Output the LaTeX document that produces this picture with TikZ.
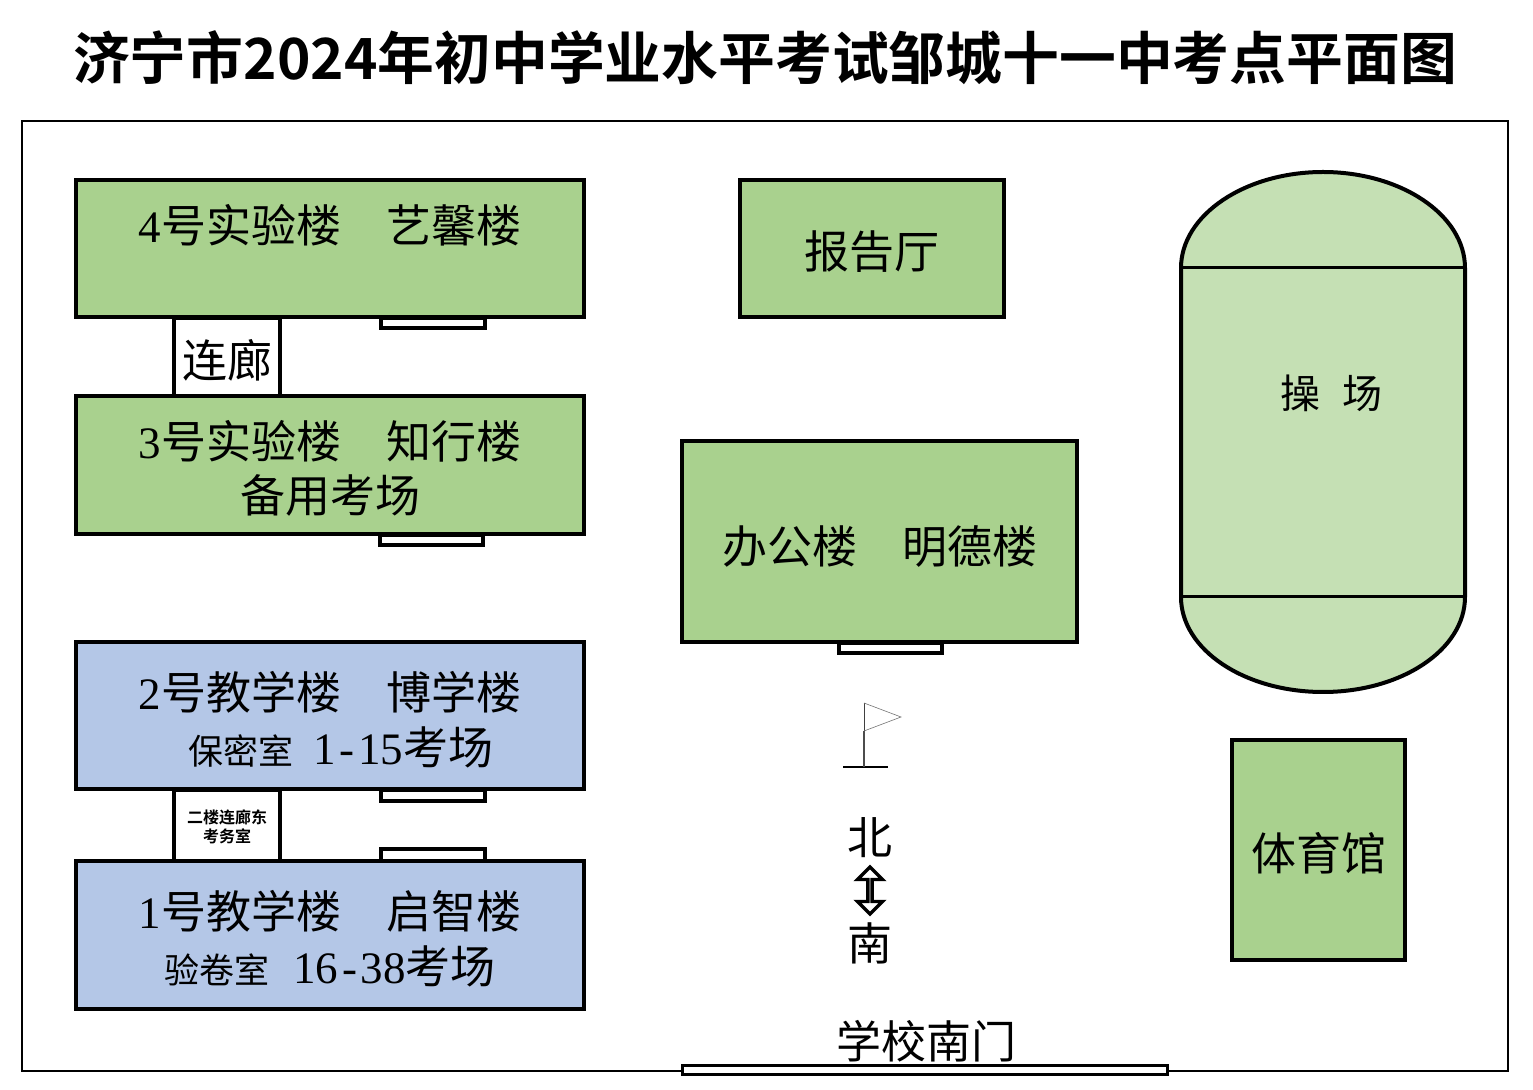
\documentclass[tikz,border=0pt]{standalone}
\usepackage{fontspec}
\setmainfont{Liberation Serif}
\newfontfamily\cjk{Noto Sans CJK SC}[BoldFont={Noto Sans CJK SC Bold}]
\usetikzlibrary{shapes.arrows}
\definecolor{bldgreen}{HTML}{A9D18E}
\definecolor{bldblue}{HTML}{B4C7E7}
\definecolor{fieldgreen}{HTML}{C5E0B4}
\newcommand{\dg}[1]{{\rmfamily #1}}
\newcommand{\hy}{\hspace{1.8pt}-\hspace{1.8pt}}
\tikzset{
  room/.style 2 args={draw, line width=2pt, inner sep=0pt, minimum width=#1*0.5pt, minimum height=#2*0.5pt},
  door/.style 2 args={draw, fill=white, line width=1.8pt, inner sep=0pt, minimum width=#1*0.5pt, minimum height=#2*0.5pt},
  big/.style={font=\cjk\fontsize{22.5}{27}\selectfont, inner sep=0pt},
  mid/.style={font=\cjk\fontsize{17.5}{21}\selectfont, inner sep=0pt}
}
\begin{document}
\begin{tikzpicture}[x=0.5pt, y=-0.5pt]
        \useasboundingbox (0,0) rectangle (1533,1090);

        \node[font=\cjk\bfseries\fontsize{28.4}{34}\selectfont, inner sep=0pt] (title) at (765,58) {济宁市2024年初中学业水平考试邹城十一中考点平面图};
        \node[draw, line width=1.2pt, inner sep=0pt, minimum width=743pt, minimum height=475pt] (frame) at (765,596) {};

        % corridors and doors first, the buildings lie over their ends
        \node[room={106}{78}, fill=white] (linkA) at (227,357) {};
        \node[room={106}{71}, fill=white] (linkB) at (227,825.5) {};
        \node[door={104}{10}] (doorD) at (433,323) {};
        \node[door={103}{10}] (doorC) at (431.5,540) {};
        \node[door={104}{11}] (doorB) at (433,795.5) {};
        \node[door={104}{12}] (doorA) at (433,855) {};
        \node[door={103}{10}] (doorO) at (890.5,648) {};
        \node[door={485}{9}] (gate) at (925,1070) {};

        \node[room={508}{137}, fill=bldgreen] (labD) at (330,249) {};
        \node[room={508}{138}, fill=bldgreen] (labC) at (330,465.5) {};
        \node[room={508}{147}, fill=bldblue] (teachB) at (330,716) {};
        \node[room={508}{147}, fill=bldblue] (teachA) at (330,935) {};
        \node[room={264}{137}, fill=bldgreen] (hall) at (872,249) {};
        \node[room={395}{201}, fill=bldgreen] (office) at (879.5,542) {};
        \node[room={173}{220}, fill=bldgreen] (gym) at (1318.5,850.5) {};

        % playground
        \draw[line width=2pt, fill=fieldgreen] (1181,268) .. controls (1181,215) and (1245,172) .. (1323,172)
          .. controls (1401,172) and (1465,215) .. (1465,268) -- (1465,597)
          .. controls (1465,650) and (1401,692) .. (1323,692)
          .. controls (1245,692) and (1181,650) .. (1181,597) -- cycle;
        \node[draw, line width=1.5pt, inner sep=0pt, minimum width=142pt, minimum height=164.5pt] (field) at (1323,432.5) {};

        \node[big] (labDtext) at (330,225) {\dg{4}号实验楼　艺馨楼};
        \node[big] (linkAtext) at (227,360) {连廊};
        \node[big] (labCtext) at (330,441) {\dg{3}号实验楼　知行楼};
        \node[big] (labCnote) at (330,495) {备用考场};
        \node[big] (hallText) at (872,252) {报告厅};
        \node[big] (officeText) at (880,546) {办公楼　明德楼};
        \node[font=\cjk\fontsize{20}{24}\selectfont, inner sep=0pt] (fieldText) at (1331,393) {操\hspace{11pt}场};
        \node[big] (teachBtext) at (330,692) {\dg{2}号教学楼　博学楼};
        \node[inner sep=0pt] (teachBnote) at (341,747) {\cjk\fontsize{17.5}{21}\selectfont 保密室\hspace{10pt}\fontsize{22.5}{27}\selectfont\dg{1\hy 15}考场};
        \node[big] (teachAtext) at (330,911) {\dg{1}号教学楼　启智楼};
        \node[inner sep=0pt] (teachAnote) at (330,966) {\cjk\fontsize{17.5}{21}\selectfont 验卷室\hspace{12pt}\fontsize{22.5}{27}\selectfont\dg{16\hy 38}考场};
        \node[font=\cjk\bfseries\fontsize{8}{9.5}\selectfont, align=center, inner sep=0pt] (linkBtext) at (227,827) {二楼连廊东\\考务室};
        \node[big] (gymText) at (1319,853) {体育馆};
        \node[big] (north) at (870,838) {北};
        \node[big] (south) at (870,943) {南};
        \node[big] (gateText) at (926,1041) {学校南门};

        % compass arrow
        \node[draw, double arrow, rotate=90, line width=1.7pt, inner sep=0pt, minimum width=12.5pt, minimum height=23.5pt,
          double arrow head extend=4.25pt] (compass) at (870,890.5) {};

        % flag
        \coordinate (poleFoot) at (864,767);
        \coordinate (poleTop) at (864,703);
        \coordinate (flagTip) at (901,717);
        \coordinate (flagEnd) at (864,731);
        \coordinate (baseL) at (843,767);
        \coordinate (baseR) at (888,767);
        \draw[line width=1.1pt] (baseL) -- (baseR);
        \draw[line width=0.5pt, black!75] (poleTop) -- (flagEnd);
        \draw[line width=0.9pt, black!70] (flagEnd) -- (poleFoot);
        \draw[line width=0.3pt, black!55] (poleTop) -- (flagTip) -- (flagEnd);
\end{tikzpicture}
\end{document}
